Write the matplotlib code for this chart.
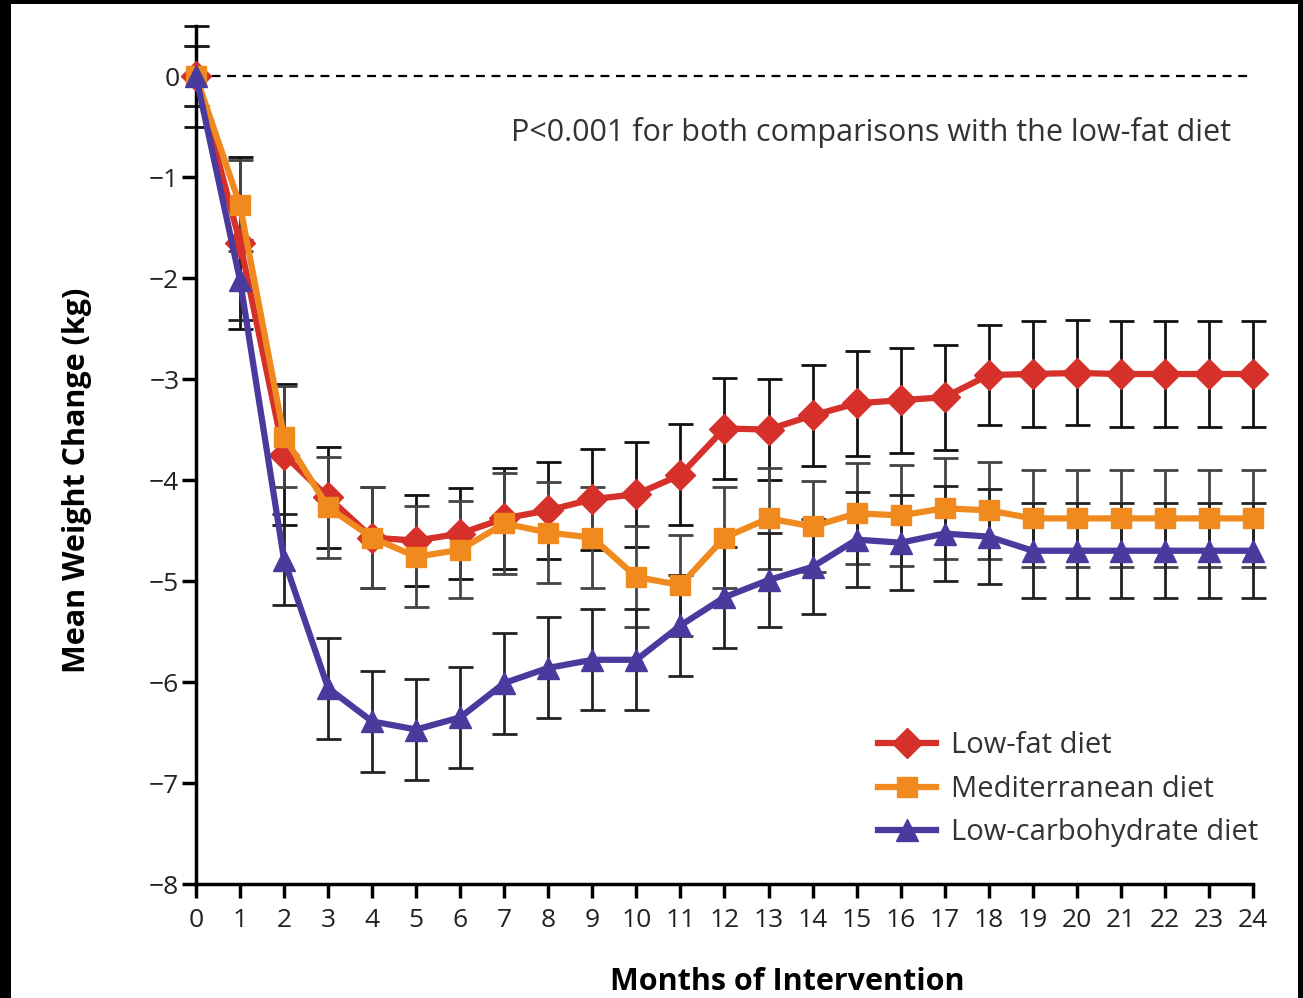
import matplotlib.pyplot as plt
from matplotlib.patches import Rectangle

plt.rcParams['font.family'] = ['Open Sans', 'DejaVu Sans']

months = list(range(25))

low_fat = [0, -1.65, -3.75, -4.17, -4.57, -4.60, -4.53, -4.38, -4.30, -4.19, -4.14,
           -3.95, -3.49, -3.50, -3.36, -3.24, -3.21, -3.18, -2.96, -2.95, -2.94,
           -2.95, -2.95, -2.95, -2.95]
low_fat_err = [0.5, 0.85, 0.7, 0.5, 0.5, 0.45, 0.45, 0.5, 0.48, 0.5, 0.52,
               0.5, 0.5, 0.5, 0.5, 0.52, 0.52, 0.52, 0.5, 0.52, 0.52,
               0.52, 0.52, 0.52, 0.52]

med = [0, -1.28, -3.57, -4.27, -4.57, -4.76, -4.69, -4.43, -4.52, -4.57, -4.96,
       -5.04, -4.57, -4.38, -4.46, -4.33, -4.35, -4.28, -4.30, -4.38, -4.38,
       -4.38, -4.38, -4.38, -4.38]
med_err = [0.3, 0.45, 0.5, 0.5, 0.5, 0.5, 0.48, 0.5, 0.5, 0.5, 0.5,
           0.5, 0.5, 0.5, 0.45, 0.5, 0.5, 0.5, 0.48, 0.48, 0.48,
           0.48, 0.48, 0.48, 0.48]

low_carb = [0, -2.02, -4.79, -6.06, -6.39, -6.47, -6.35, -6.01, -5.86, -5.78, -5.78,
            -5.44, -5.16, -4.99, -4.86, -4.59, -4.62, -4.53, -4.56, -4.70, -4.70,
            -4.70, -4.70, -4.70, -4.70]
low_carb_err = [0.3, 0.4, 0.45, 0.5, 0.5, 0.5, 0.5, 0.5, 0.5, 0.5, 0.5,
                0.5, 0.5, 0.47, 0.47, 0.47, 0.47, 0.47, 0.47, 0.47, 0.47,
                0.47, 0.47, 0.47, 0.47]

fig = plt.figure(figsize=(13.03, 9.98), dpi=100, facecolor='black')
fig.patches.append(Rectangle((11 / 1303, 0), 1287 / 1303, 994 / 998,
                             transform=fig.transFigure, facecolor='white',
                             edgecolor='none', zorder=-10))

ax = fig.add_axes([0.1504, 0.1142, 0.8112, 0.8602])
ax.set_facecolor('none')

ax.axhline(0, color='black', linestyle=(0, (4, 3)), linewidth=1.6, zorder=1)

series = [
    (low_fat, low_fat_err, '#d6302a', 'D', 15, 'Low-fat diet', '#111111'),
    (med, med_err, '#f0891e', 's', 14, 'Mediterranean diet', '#444444'),
    (low_carb, low_carb_err, '#4a3a9e', '^', 16, 'Low-carbohydrate diet', '#222222'),
]

for vals, errs, col, mk, ms, lab, ecol in series:
    ax.errorbar(months, vals, yerr=errs, fmt='none', ecolor=ecol, elinewidth=2,
                capsize=9, capthick=2, zorder=2, clip_on=False)

for vals, errs, col, mk, ms, lab, ecol in series:
    ax.plot(months, vals, color=col, marker=mk, markersize=ms, linewidth=4.5,
            label=lab, zorder=3, clip_on=False)

ax.set_xlim(0, 24)
ax.set_ylim(-8, 0.5)
ax.set_xticks(months)
ax.set_yticks(range(-8, 1))
ax.set_yticklabels(['−8', '−7', '−6', '−5', '−4', '−3', '−2', '−1', '0'])
ax.tick_params(axis='both', labelsize=19, width=2.5, length=10, direction='out',
               labelcolor='#222222')
ax.tick_params(axis='x', pad=7)
ax.tick_params(axis='y', pad=2)

for s in ['top', 'right']:
    ax.spines[s].set_visible(False)
ax.spines['left'].set_linewidth(2.5)
ax.spines['bottom'].set_linewidth(2.5)
ax.spines['left'].set_bounds(-8, 0.5)

ax.set_xlabel('Months of Intervention', fontsize=22, fontweight='bold')
ax.xaxis.set_label_coords(0.559, -0.097)
ax.set_ylabel('Mean Weight Change (kg)', fontsize=22, fontweight='bold')
ax.yaxis.set_label_coords(-0.098, 0.47)

ax.text(0.979, 0.876, 'P<0.001 for both comparisons with the low-fat diet',
        transform=ax.transAxes, ha='right', va='center', fontsize=22, color='#333333')

ax.legend(loc='upper left', bbox_to_anchor=(0.645, 0.178), frameon=False, fontsize=21,
          borderpad=0, borderaxespad=0, handlelength=2.0, handletextpad=0.5,
          labelspacing=0.5, labelcolor='#333333')

plt.savefig('out.png', dpi=100, facecolor=fig.get_facecolor())
